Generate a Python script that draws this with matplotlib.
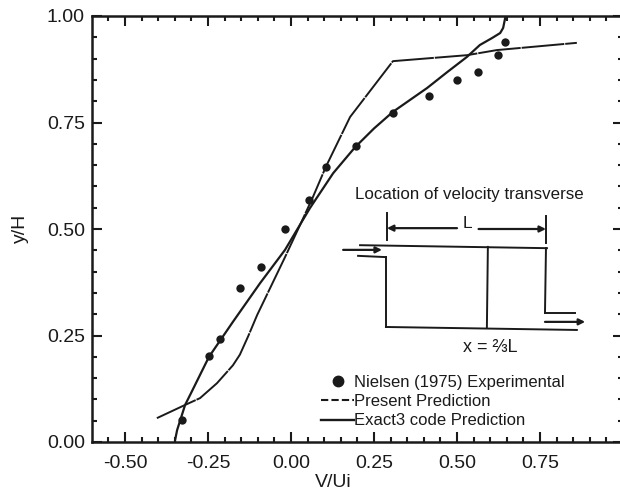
import numpy as np
import matplotlib

matplotlib.use("Agg")
import matplotlib.pyplot as plt
from matplotlib.lines import Line2D

plt.rcParams["font.family"] = ["Liberation Sans", "DejaVu Sans"]

INK = "#1a1a1a"

nielsen_x = [-0.328, -0.247, -0.214, -0.154, -0.090, -0.018, 0.054, 0.105,
             0.196, 0.307, 0.416, 0.500, 0.563, 0.623, 0.645]
nielsen_y = [0.052, 0.202, 0.242, 0.362, 0.411, 0.500, 0.568, 0.646,
             0.695, 0.772, 0.812, 0.850, 0.869, 0.908, 0.939]

present_x = [-0.404, -0.319, -0.274, -0.223, -0.175, -0.154, -0.128, -0.102, -0.018, 0.027,
             0.066, 0.105, 0.178, 0.307, 0.530, 0.620, 0.861]
present_y = [0.056, 0.087, 0.103, 0.138, 0.180, 0.205, 0.250, 0.298, 0.434, 0.509,
             0.575, 0.646, 0.763, 0.894, 0.908, 0.920, 0.937]

exact_x = [-0.349, -0.343, -0.319, -0.301, -0.247, -0.175, -0.093, -0.018,
           0.057, 0.127, 0.193, 0.250, 0.307, 0.410, 0.470, 0.530, 0.569, 0.605, 0.630,
           0.639, 0.645]
exact_y = [0.005, 0.028, 0.087, 0.115, 0.200, 0.282, 0.373, 0.451,
           0.549, 0.631, 0.692, 0.736, 0.775, 0.831, 0.868, 0.904, 0.932, 0.948, 0.960,
           0.972, 0.995]

x_ticks = [-0.50, -0.25, 0.00, 0.25, 0.50, 0.75, 1.00]
x_tick_labels = ["-0.50", "-0.25", "0.00", "0.25", "0.50", "0.75", ""]
y_ticks = [0.00, 0.25, 0.50, 0.75, 1.00]
y_tick_labels = ["0.00", "0.25", "0.50", "0.75", "1.00"]

# duct sketch, each entry is one wall as (xs, ys)
duct_walls = [
    ([0.208, 0.771], [0.462, 0.455]),
    ([0.202, 0.286], [0.437, 0.434]),
    ([0.286, 0.286], [0.434, 0.270]),
    ([0.286, 0.861], [0.270, 0.263]),
    ([0.593, 0.590], [0.458, 0.268]),
    ([0.768, 0.765], [0.455, 0.303]),
    ([0.765, 0.855], [0.303, 0.303]),
    ([0.289, 0.289], [0.538, 0.474]),
    ([0.768, 0.768], [0.531, 0.467]),
]
# flow and dimension arrows as (start, end)
duct_arrows = [
    ((0.157, 0.451), (0.274, 0.451)),
    ((0.765, 0.282), (0.886, 0.282)),
    ((0.500, 0.502), (0.289, 0.502)),
    ((0.565, 0.500), (0.768, 0.500)),
]

fig = plt.figure(figsize=(6.2, 4.93), dpi=100)
ax = fig.add_axes([91.8 / 620, 1 - 442 / 493, 531.2 / 620, 426 / 493])

ax.plot(present_x, present_y, color=INK, lw=1.4, ls=(0, (22, 0.5)))
ax.plot(exact_x, exact_y, color=INK, lw=1.6)
ax.scatter(nielsen_x, nielsen_y, color=INK, s=36, zorder=3, linewidths=0)

for xs, ys in duct_walls:
    ax.plot(xs, ys, color=INK, lw=1.4)
for start, end in duct_arrows:
    ax.annotate(
        "", xy=end, xytext=start,
        arrowprops=dict(arrowstyle="-|>", color=INK, lw=1.6, shrinkA=0, shrinkB=0,
                        mutation_scale=9),
    )

ax.text(0.536, 0.582, "Location of velocity transverse", fontsize=12.2, color=INK,
        ha="center", va="center")
ax.text(0.530, 0.514, "L", fontsize=12.5, color=INK, ha="center", va="center")
ax.text(0.599, 0.221, "x = \u2154L", fontsize=13, color=INK, ha="center", va="center")

ax.set_xlim(-0.6, 1.0)
ax.set_ylim(0, 1)
ax.set_xticks(x_ticks, x_tick_labels)
ax.set_yticks(y_ticks, y_tick_labels)
ax.set_xticks(np.arange(-0.55, 1.0, 0.05), minor=True)
ax.set_yticks(np.arange(0.05, 1.0, 0.05), minor=True)
ax.tick_params(which="major", direction="in", top=True, right=True, length=7, width=1.5,
               labelsize=14, labelcolor=INK, color=INK)
ax.tick_params(which="minor", direction="in", top=True, right=True, length=3.5, width=1.5,
               color=INK)
ax.tick_params(axis="x", which="major", pad=9)
ax.tick_params(axis="y", which="major", pad=5)
for spine in ax.spines.values():
    spine.set_linewidth(1.8)
    spine.set_color(INK)

ax.set_xlabel("V/Ui", fontsize=14, color=INK)
ax.xaxis.set_label_coords((333 - 91.8) / 531.2, -32 / 426)
ax.set_ylabel("y/H", fontsize=14, color=INK)
ax.yaxis.set_label_coords(-63 / 531.2, (442 - 228) / 426)

handles = [
    Line2D([], [], ls="none", marker="o", ms=7.5, color=INK),
    Line2D([], [], color=INK, lw=1.5, ls=(0, (3.5, 1.5))),
    Line2D([], [], color=INK, lw=1.7),
]
labels = ["Nielsen (1975) Experimental", "Present Prediction", "Exact3 code Prediction"]
ax.legend(handles, labels, frameon=False, fontsize=12, loc="lower left",
          bbox_to_anchor=(0.425, 0.024), handlelength=2.0, handletextpad=0.0,
          labelspacing=0.25, borderpad=0.2, borderaxespad=0, labelcolor=INK)

fig.savefig("out.png", dpi=100)
